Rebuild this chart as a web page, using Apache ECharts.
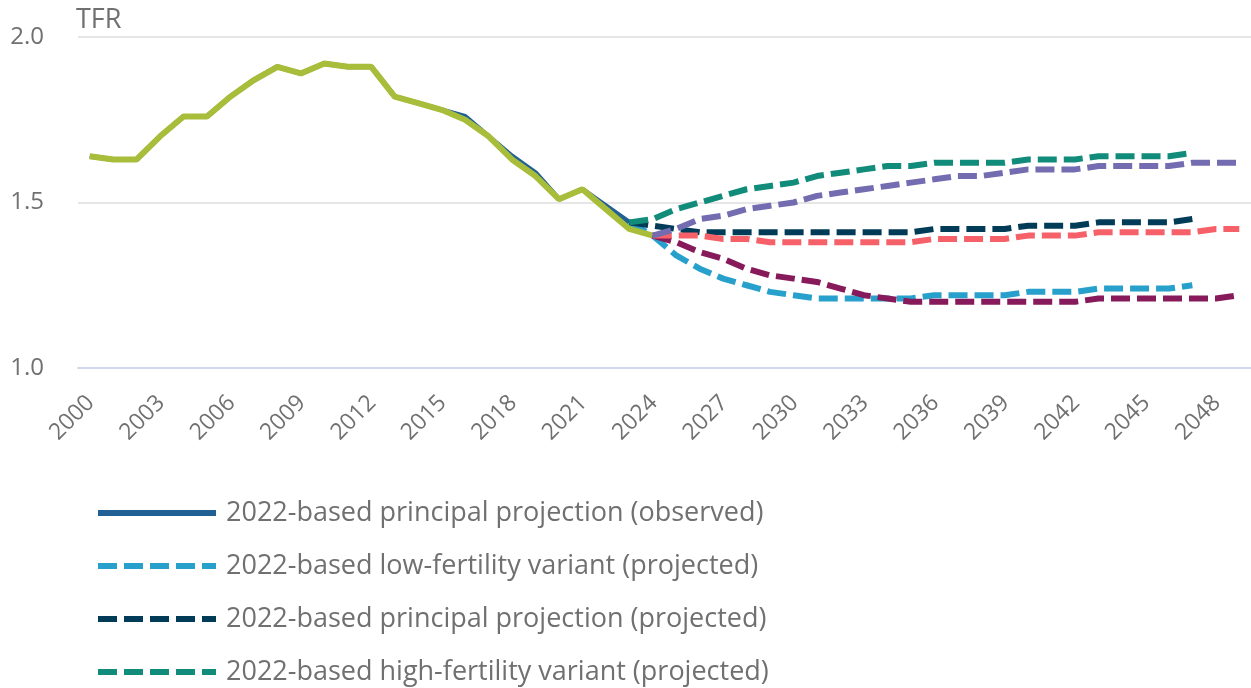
<!DOCTYPE html>
<html>
<head>
<meta charset="utf-8">
<title>TFR projections</title>
<script src="https://cdn.jsdelivr.net/npm/echarts@6/dist/echarts.min.js"></script>
<style>
  html, body { margin: 0; padding: 0; background: #fff; }
  #chart { width: 1251px; height: 688px; }
</style>
</head>
<body>
<div id="chart"></div>
<script>
// years on the x axis, 2000 - 2049
const years = [];
for (let y = 2000; y <= 2049; y++) years.push(String(y));

// observed TFR (2000 onwards)
const observed2022 = [1.64, 1.63, 1.63, 1.70, 1.76, 1.76, 1.82, 1.87, 1.91, 1.89,
  1.92, 1.91, 1.91, 1.82, 1.80, 1.78, 1.76, 1.70, 1.64, 1.59,
  1.51, 1.54, 1.49, 1.44];
const observed2023 = [1.64, 1.63, 1.63, 1.70, 1.76, 1.76, 1.82, 1.87, 1.91, 1.89,
  1.92, 1.91, 1.91, 1.82, 1.80, 1.78, 1.75, 1.70, 1.63, 1.58,
  1.51, 1.54, 1.48, 1.42, 1.40];

// 2022-based projections, 2023 - 2047
const low2022 = [1.44, 1.40, 1.34, 1.30, 1.27, 1.25, 1.23, 1.22, 1.21, 1.21,
  1.21, 1.21, 1.21, 1.22, 1.22, 1.22, 1.22, 1.23, 1.23, 1.23,
  1.24, 1.24, 1.24, 1.24, 1.25];
const principal2022 = [1.44, 1.43, 1.42, 1.41, 1.41, 1.41, 1.41, 1.41, 1.41, 1.41,
  1.41, 1.41, 1.41, 1.42, 1.42, 1.42, 1.42, 1.43, 1.43, 1.43,
  1.44, 1.44, 1.44, 1.44, 1.45];
const high2022 = [1.44, 1.45, 1.48, 1.50, 1.52, 1.54, 1.55, 1.56, 1.58, 1.59,
  1.60, 1.61, 1.61, 1.62, 1.62, 1.62, 1.62, 1.63, 1.63, 1.63,
  1.64, 1.64, 1.64, 1.64, 1.65];

// 2023-based projections, 2024 - 2049
const low2023 = [1.40, 1.38, 1.35, 1.33, 1.30, 1.28, 1.27, 1.26, 1.24, 1.22,
  1.21, 1.20, 1.20, 1.20, 1.20, 1.20, 1.20, 1.20, 1.20, 1.21,
  1.21, 1.21, 1.21, 1.21, 1.21, 1.22];
const principal2023 = [1.40, 1.40, 1.40, 1.39, 1.39, 1.38, 1.38, 1.38, 1.38, 1.38,
  1.38, 1.38, 1.39, 1.39, 1.39, 1.39, 1.40, 1.40, 1.40, 1.41,
  1.41, 1.41, 1.41, 1.41, 1.42, 1.42];
const high2023 = [1.40, 1.42, 1.45, 1.46, 1.48, 1.49, 1.50, 1.52, 1.53, 1.54,
  1.55, 1.56, 1.57, 1.58, 1.58, 1.59, 1.60, 1.60, 1.60, 1.61,
  1.61, 1.61, 1.61, 1.62, 1.62, 1.62];

const yTicks = [1.0, 1.5, 2.0];

// put a series that starts in a given year onto the full year axis
function place(values, startYear) {
  const out = years.map(() => null);
  values.forEach((v, i) => {
    out[startYear - 2000 + i] = v;
  });
  return out;
}

const textColor = "#707070";
const font = "'Open Sans', sans-serif";
const dash = [19, 7];

// name, colour, data, first year, solid or dashed
const seriesDefs = [
  ["2022-based principal projection (observed)", "#206095", observed2022, 2000, "solid"],
  ["2022-based low-fertility variant (projected)", "#27a0cc", low2022, 2023, dash],
  ["2022-based principal projection (projected)", "#003c57", principal2022, 2023, dash],
  ["2022-based high-fertility variant (projected)", "#118c7b", high2022, 2023, dash],
  ["2023-based principal projection (observed)", "#a8bd3a", observed2023, 2000, "solid"],
  ["2023-based low-fertility variant (projected)", "#871a5b", low2023, 2024, dash],
  ["2023-based principal projection (projected)", "#f66068", principal2023, 2024, dash],
  ["2023-based high-fertility variant (projected)", "#746cb1", high2023, 2024, dash],
];

const chart = echarts.init(document.getElementById("chart"));

const option = {
  animation: false,
  backgroundColor: "#fff",
  grid: {
    left: 78,
    right: -2,
    top: 37,
    bottom: 320,
  },
  legend: {
    orient: "vertical",
    left: 90,
    top: 493,
    height: 600,
    itemWidth: 118,
    itemHeight: 14,
    itemGap: 23,
    itemStyle: { opacity: 0 },
    data: seriesDefs.map((d) => ({
      name: d[0],
      lineStyle: { color: d[1], width: 6, type: d[4], cap: "butt" },
    })),
    textStyle: {
      color: textColor,
      fontFamily: font,
      fontSize: 27,
      lineHeight: 30,
      padding: [0, 0, 0, 5],
    },
  },
  xAxis: {
    type: "category",
    data: years,
    boundaryGap: true,
    axisLine: { lineStyle: { color: "#d0d9ec", width: 2 } },
    axisTick: {
      alignWithLabel: true,
      interval: 2,
      length: 21,
      lineStyle: { color: "#d0d9ec", width: 2 },
    },
    axisLabel: {
      interval: 2,
      rotate: 45,
      margin: 16,
      verticalAlign: "top",
      padding: [0, 10, 0, 0],
      color: textColor,
      fontFamily: font,
      fontSize: 23,
    },
  },
  yAxis: {
    type: "value",
    min: yTicks[0],
    max: yTicks[yTicks.length - 1],
    interval: 0.5,
    name: "TFR",
    nameLocation: "end",
    nameGap: 3,
    nameTextStyle: {
      color: textColor,
      fontFamily: font,
      fontSize: 27,
      align: "left",
      verticalAlign: "bottom",
      padding: [0, 0, 0, -2],
    },
    axisLine: { show: false },
    axisTick: { show: false },
    axisLabel: {
      margin: 34,
      color: textColor,
      fontFamily: font,
      fontSize: 24,
      formatter: (v) => v.toFixed(1),
    },
    splitLine: { lineStyle: { color: "#e6e6e6", width: 2 } },
  },
  series: seriesDefs.map((d) => ({
    name: d[0],
    type: "line",
    data: place(d[2], d[3]),
    showSymbol: false,
    symbol: "none",
    color: d[1],
    lineStyle: {
      color: d[1],
      width: d[1] === "#206095" ? 5 : 6,
      type: d[4],
      cap: "butt",
    },
  })),
};

chart.setOption(option);
</script>
</body>
</html>
